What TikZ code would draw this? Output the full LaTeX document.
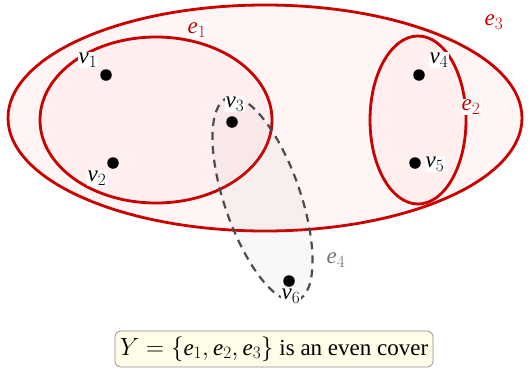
\documentclass[tikz,border=0pt]{standalone}
\usepackage{fontspec}
\setmainfont{Liberation Serif}
\definecolor{ered}{RGB}{200,0,0}
\definecolor{efill}{RGB}{255,235,235}
\definecolor{boxfill}{RGB}{255,253,232}
\begin{document}
\begin{tikzpicture}[x=1pt,y=-1pt,
  font=\fontsize{23}{27}\selectfont,
  edge/.style={draw=ered,line width=2.8pt},
  vtx/.style={circle,fill=black,inner sep=0pt,minimum size=11.5pt},
  vlab/.style={fill=white,inner sep=1pt},
  elab/.style={text=ered,inner sep=1pt},
  hyperfour/.style={draw=black!70,line width=2.2pt,dash pattern=on 8pt off 6pt,fill=black!40,fill opacity=0.07}]
\useasboundingbox (0,0) rectangle (529,370);
% e3
\coordinate (c3) at (265,118);
\draw[edge,fill=efill,fill opacity=0.5] (c3) ellipse [x radius=257pt, y radius=113pt];
% e1
\coordinate (c1) at (156,120);
\draw[edge,fill=efill,fill opacity=0.6] (c1) ellipse [x radius=116pt, y radius=83pt];
% e2
\coordinate (c2) at (418,120);
\draw[edge,fill=efill,fill opacity=0.6] (c2) ellipse [x radius=48pt, y radius=84pt];
% e4
\coordinate (c4) at (262.5,199);
\draw[hyperfour,rotate around={-71:(c4)}] (c4) ellipse [x radius=107pt, y radius=38pt];
% vertices
\node[vtx] (v1) at (106,75) {};
\node[vtx] (v2) at (113,163) {};
\node[vtx] (v3) at (232,122) {};
\node[vtx] (v4) at (419,75) {};
\node[vtx] (v5) at (415,163) {};
\node[vtx] (v6) at (289,281) {};
% vertex labels
\node[vlab] (l1) at (88,60) {$\mathit{v}_1$};
\node[vlab] (l2) at (97,178) {$\mathit{v}_2$};
\node[vlab] (l3) at (235,104) {$\mathit{v}_3$};
\node[vlab] (l4) at (439,60) {$\mathit{v}_4$};
\node[vlab] (l5) at (435,164) {$\mathit{v}_5$};
\node[vlab] (l6) at (291,296) {$\mathit{v}_6$};
% edge labels
\node[elab,fill=white] (le1) at (197,30) {$\mathit{e}_1$};
\node[elab,fill=white] (le2) at (471,107) {$\mathit{e}_2$};
\node[elab] (le3) at (494,22) {$\mathit{e}_3$};
\node[text=black!55,inner sep=1pt] (le4) at (336,260) {$\mathit{e}_4$};
% caption box
\node[draw=black!45,fill=boxfill,rounded corners=6pt,line width=0.7pt,minimum width=318pt,minimum height=36pt,inner sep=3pt] (cap) at (274,349)
  {$Y=\{\mathit{e}_1,\mathit{e}_2,\mathit{e}_3\}$ is an even cover};
\end{tikzpicture}
\end{document}
